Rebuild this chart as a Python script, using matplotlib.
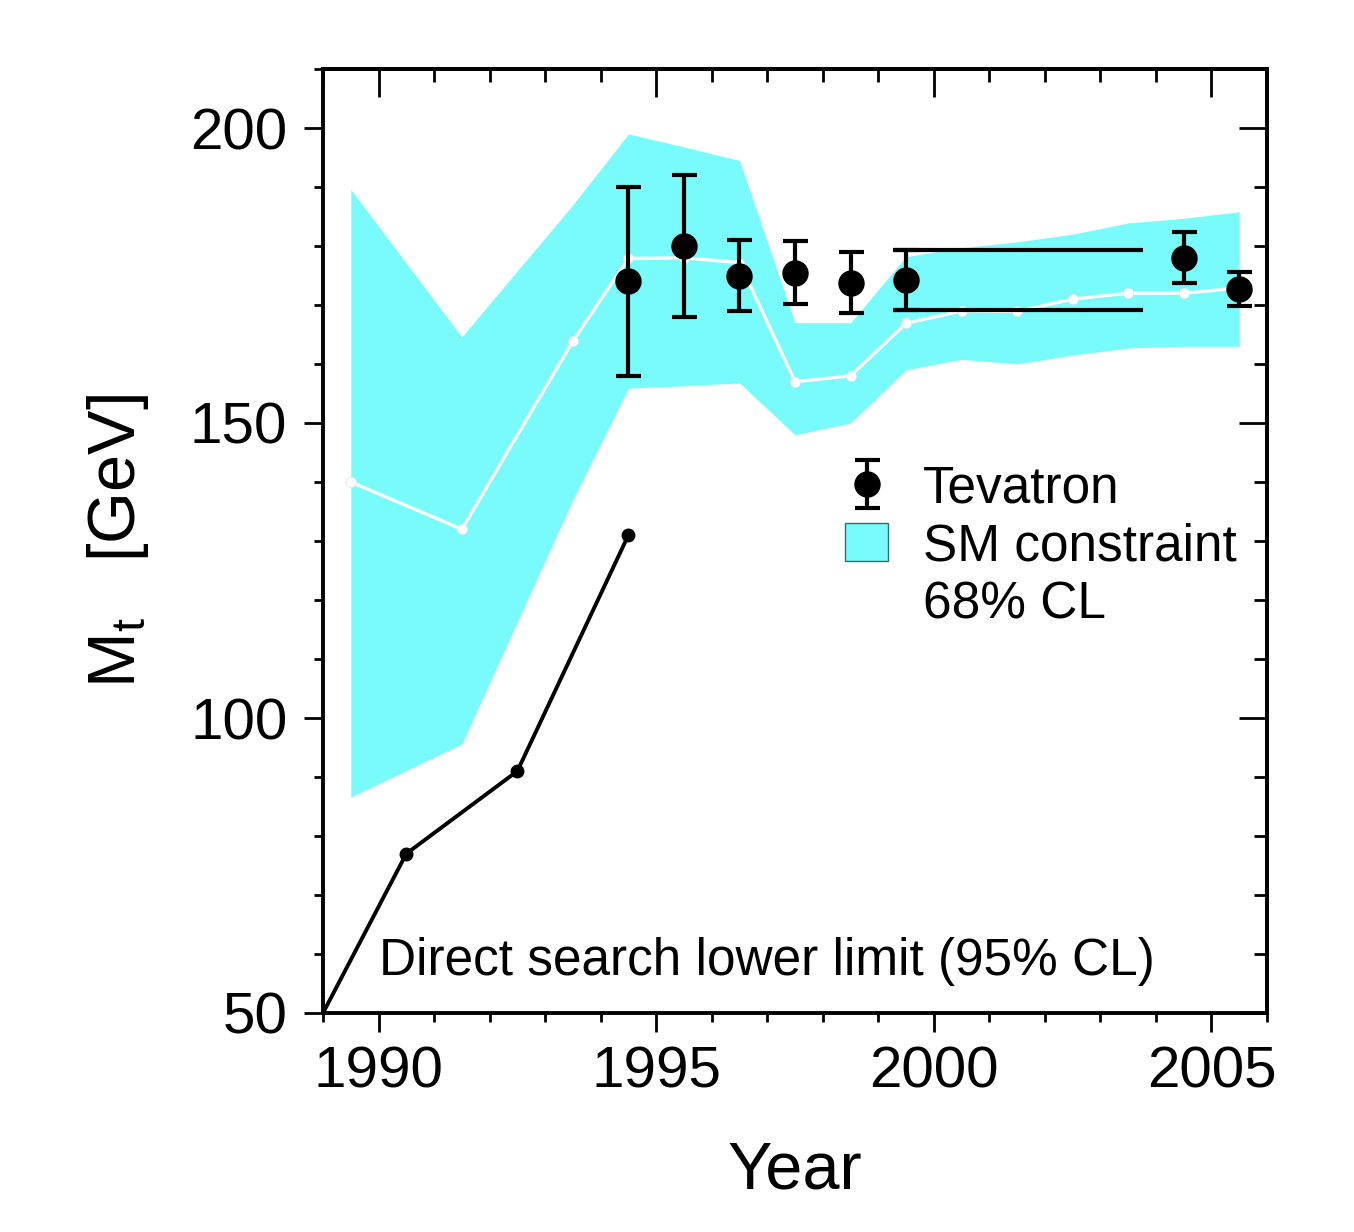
import matplotlib
matplotlib.use("Agg")
from matplotlib import pyplot as plt
from matplotlib.ticker import MultipleLocator, NullFormatter
from matplotlib.patches import Patch
from matplotlib.lines import Line2D
from matplotlib.legend_handler import HandlerErrorbar

plt.rcParams['font.family'] = ['Liberation Sans', 'DejaVu Sans']
plt.rcParams['mathtext.fontset'] = 'custom'
plt.rcParams['mathtext.rm'] = 'Liberation Sans'

# SM constraint (68% CL band) and its central value, per year
sm_year = [1989.5, 1991.5, 1993.5, 1994.5, 1995.5, 1996.5, 1997.5, 1998.5,
           1999.5, 2000.5, 2001.5, 2002.5, 2003.5, 2004.5, 2005.5]
sm_hi = [189.6, 164.6, 187.0, 199.0, 196.8, 194.5, 167.0, 167.0,
         178.2, 179.7, 180.7, 182.0, 183.9, 184.7, 185.8]
sm_lo = [86.6, 95.6, 137.0, 155.9, 156.3, 156.8, 148.0, 150.0,
         159.0, 160.8, 160.0, 161.5, 162.7, 163.0, 163.0]
sm_mid = [140.0, 132.0, 163.9, 177.9, 178.0, 177.2, 157.0, 158.0,
          166.9, 169.0, 168.9, 171.0, 172.0, 172.0, 172.9]

# Tevatron direct measurements
tev_year = [1994.5, 1995.5, 1996.5, 1997.5, 1998.5, 1999.5, 2004.5, 2005.5]
tev_mt = [174.0, 180.0, 175.0, 175.5, 173.8, 174.3, 178.0, 172.7]
tev_err = [16.0, 12.0, 6.0, 5.4, 5.1, 5.1, 4.3, 2.9]

# Run I result carried forward
run1_start, run1_end = 1999.27, 2003.77
run1_mt, run1_err = 174.3, 5.1

# direct search lower limit
ds_year = [1989.0, 1990.5, 1992.5, 1994.5]
ds_mt = [50.0, 77.0, 91.0, 131.0]

cyan = '#79fbfb'

fig = plt.figure(figsize=(13.54, 12.32), dpi=100)
ax = fig.add_axes([323 / 1354, 1 - 1013 / 1232, 944 / 1354, 944 / 1232])

ax.fill_between(sm_year, sm_lo, sm_hi, color=cyan, lw=0, zorder=1)
ax.plot(sm_year, sm_mid, color='white', lw=2.4, marker='o', ms=7.5,
        mec='#dddddd', mew=0.4, zorder=2)

ax.plot(ds_year, ds_mt, color='black', lw=2.8, zorder=3, clip_on=False)
ax.plot(ds_year[1:], ds_mt[1:], 'o', color='black', ms=9, zorder=3)

ax.hlines([run1_mt - run1_err, run1_mt + run1_err], run1_start, run1_end,
          color='black', lw=3.0, zorder=4)
tev = ax.errorbar(tev_year, tev_mt, yerr=tev_err, fmt='o', color='black',
                  ms=18, elinewidth=3.0, capsize=9, capthick=3.0, zorder=5,
                  label='Tevatron')

ax.text(1990.0, 56.4, 'Direct search lower limit (95% CL)', fontsize=37,
        ha='left', va='baseline')

handles = [tev,
           Patch(facecolor=cyan, edgecolor='#2f6f6f', lw=1.0),
           Line2D([], [], linestyle='none')]
labels = ['Tevatron', 'SM constraint', '68% CL']
ax.legend(handles, labels, loc='upper left', bbox_to_anchor=(0.553, 0.581),
          frameon=False, fontsize=37, borderpad=0, borderaxespad=0,
          handlelength=0.84, handleheight=0.76, handletextpad=0.67,
          labelspacing=0.17,
          handler_map={type(tev): HandlerErrorbar(yerr_size=0.46)})

ax.set_xlim(1989, 2006)
ax.set_ylim(50, 210)
ax.xaxis.set_major_locator(MultipleLocator(5))
ax.xaxis.set_minor_locator(MultipleLocator(1))
ax.yaxis.set_major_locator(MultipleLocator(50))
ax.yaxis.set_minor_locator(MultipleLocator(10))
ax.set_yticks([50, 100, 150, 200])

ax.tick_params(which='both', direction='out', width=2.0, labelsize=42,
               top=False, right=False)
ax.tick_params(which='major', length=13.7)
ax.tick_params(which='minor', length=6.5)
ax.tick_params(axis='x', pad=10)
ax.tick_params(axis='y', pad=12)
for s in ax.spines.values():
    s.set_linewidth(2.8)

top = ax.secondary_xaxis('top')
top.xaxis.set_major_locator(MultipleLocator(5))
top.xaxis.set_minor_locator(MultipleLocator(1))
top.xaxis.set_major_formatter(NullFormatter())
top.tick_params(which='both', direction='in', width=2.0)
top.tick_params(which='major', length=20)
top.tick_params(which='minor', length=9.4)

right = ax.secondary_yaxis('right')
right.yaxis.set_major_locator(MultipleLocator(50))
right.yaxis.set_minor_locator(MultipleLocator(10))
right.yaxis.set_major_formatter(NullFormatter())
right.tick_params(which='both', direction='in', width=2.0)
right.tick_params(which='major', length=20)
right.tick_params(which='minor', length=9.4)
for sa in (top, right):
    for s in sa.spines.values():
        s.set_linewidth(2.8)

ax.set_xlabel('Year', fontsize=48, labelpad=29)
ax.set_ylabel(r'$\mathregular{M_t}$   [GeV]', fontsize=48, labelpad=28)

fig.savefig('out.png', dpi=100)
